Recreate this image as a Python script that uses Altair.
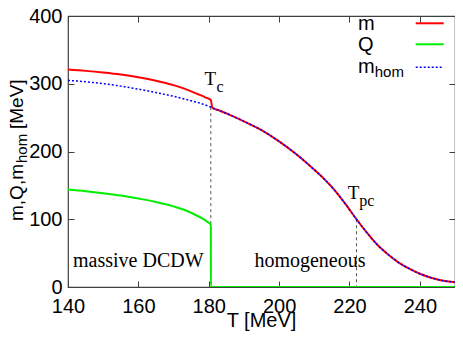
import altair as alt
import pandas as pd

# ---------------- data ----------------
T_mhom = [140, 145, 150, 155, 160, 165, 170, 175, 178, 180.6, 183, 186, 190, 195,
          200, 205, 210, 213, 216, 219, 222, 225, 228, 231, 234, 237, 240, 243, 246, 250]
mhom = [305, 303, 300, 296.5, 292, 287, 281.5, 275, 270.5, 265.5, 260.5, 254, 244.5, 231.5,
        215, 195.5, 173, 158.5, 141.5, 121.5, 100, 80, 62, 48, 36, 27, 19.5, 14, 10, 7]

T_m_low = [140, 145, 150, 155, 160, 165, 170, 174, 177, 179, 180.6]
m_low = [321, 319, 316.5, 313.5, 309.5, 304.5, 298, 291, 284.5, 280, 276]
T_drop_end = 181.0
m_drop_end = 264.5

T_Q = [140, 145, 150, 155, 160, 165, 170, 173, 176, 178, 179.5, 180.6, 180.61, 250]
Q = [144, 141.5, 138.5, 135, 130.5, 125.5, 119, 114, 107, 101.5, 96.5, 92, 0, 0]

T_marks = [180.6, 222.0]       # T_c, T_pc
m_at_marks = [265.5, 100]

x_ticks = [140, 160, 180, 200, 220, 240]
y_ticks = [0, 100, 200, 300, 400]

# ---------------- tables ----------------
def series(T, v):
    return pd.DataFrame({"T": T, "v": v, "i": list(range(len(T)))})

m_T = T_m_low + [T_drop_end] + [t for t in T_mhom if t > T_drop_end]
m_v = m_low + [m_drop_end] + [v for t, v in zip(T_mhom, mhom) if t > T_drop_end]

df_m = series(m_T, m_v)
df_Q = series(T_Q, Q)
df_h = series(T_mhom, mhom)
df_marks = pd.DataFrame({"T": T_marks, "top": m_at_marks})

W, H = 387, 271
SANS = "Liberation Sans"
SERIF = "Liberation Serif"
FRAME = "#404040"

xs = alt.Scale(domain=[140, 250], nice=False, zero=False)
ys = alt.Scale(domain=[0, 400], nice=False)
inward = {"expr": "-6"}

axis_bottom = alt.Axis(orient="bottom", values=x_ticks, tickSize=inward, labelPadding=15,
                       domain=False, grid=False, title=None, labelFont=SANS,
                       labelFontSize=20, labelColor="black", tickColor=FRAME, labelFlush=False)
axis_left = alt.Axis(orient="left", values=y_ticks, tickSize=inward, labelPadding=12,
                     domain=False, grid=False, title=None, labelFont=SANS,
                     labelFontSize=20, labelColor="black", tickColor=FRAME, labelFlush=False)
axis_top = alt.Axis(orient="top", values=x_ticks, tickSize=inward, labels=False,
                    domain=False, grid=False, title=None, tickColor=FRAME)
axis_right = alt.Axis(orient="right", values=y_ticks, tickSize=inward, labels=False,
                      domain=False, grid=False, title=None, tickColor=FRAME)


def line(df, color, width, dash=None, xaxis=None, yaxis=None, opacity=1.0):
    kw = dict(color=color, strokeWidth=width, clip=True, interpolate="monotone", opacity=opacity)
    if dash is not None:
        kw["strokeDash"] = dash
    return alt.Chart(df).mark_line(**kw).encode(
        x=alt.X("T:Q", scale=xs, axis=xaxis),
        y=alt.Y("v:Q", scale=ys, axis=yaxis),
        order=alt.Order("i:Q"),
    )


one = alt.Data(values=[{}])


def label(text, x, y, size, font, angle=0, align="left"):
    kw = dict(text=text, font=font, fontSize=size, align=align, baseline="alphabetic",
              color="black")
    if angle:
        kw["angle"] = angle
    return alt.Chart(one).mark_text(**kw).encode(x=alt.value(x), y=alt.value(y))


def key_line(color, y, width, dash=None):
    kw = dict(color=color, strokeWidth=width)
    if dash is not None:
        kw["strokeDash"] = dash
    return alt.Chart(one).mark_rule(**kw).encode(
        x=alt.value(347.7), x2=alt.value(375.7), y=alt.value(y))


dashed = alt.Chart(df_marks).mark_rule(color="#555555", strokeWidth=1, strokeDash=[3, 3]).encode(
    x=alt.X("T:Q", scale=xs, axis=None),
    y=alt.Y("top:Q", scale=ys, axis=None),
    y2=alt.datum(0),
)

layers = [
    dashed,
    line(df_Q, "#00ee00", 2, xaxis=axis_bottom, yaxis=axis_left),
    line(df_m, "#ff0000", 2),
    line(df_h, "#0000ff", 1.5, dash=[2, 2]),
    line(df_h, "#0000ff", 1, xaxis=axis_top, yaxis=axis_right, opacity=0),
    # axis titles
    label("T [MeV]", 193.5, 311, 20, SANS, align="center"),
    label("m,Q,m", -45, 205, 19, SANS, angle=270),
    label("hom", -41, 147, 15, SANS, angle=270),
    label("[MeV]", -45, 113, 19, SANS, angle=270),
    # key
    label("m", 290, 14, 20, SANS),
    key_line("#ff0000", 7.3, 2),
    label("Q", 290, 35, 20, SANS),
    key_line("#00ee00", 28.3, 2),
    label("m", 290, 57, 20, SANS),
    label("hom", 306.7, 61, 15, SANS),
    key_line("#0000ff", 51.3, 1.5, dash=[2, 2]),
    # annotations
    label("T", 136.5, 69, 19, SERIF),
    label("c", 148.5, 76, 16, SERIF),
    label("T", 279.7, 183, 19, SERIF),
    label("pc", 291.3, 190, 16, SERIF),
    label("massive DCDW", 5, 251, 20, SERIF),
    label("homogeneous", 186.4, 251, 20, SERIF),
]

chart = alt.layer(*layers).resolve_axis(x="independent", y="independent").properties(
    width=W, height=H,
    padding={"left": 60, "top": 8, "right": 0, "bottom": 44},
    autosize=alt.AutoSizeParams(type="none"),
).configure_view(stroke=FRAME, strokeWidth=1.2)

chart.save("out.html", embed_options={"renderer": "svg", "actions": False})
